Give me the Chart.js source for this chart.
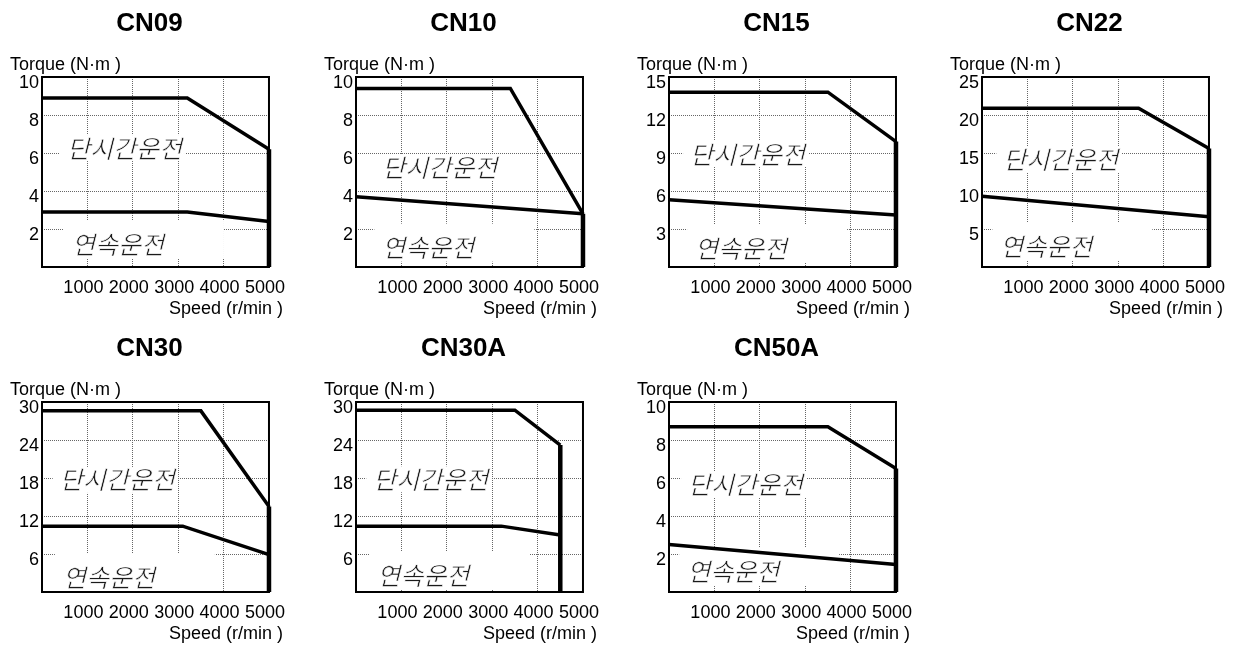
<!DOCTYPE html>
<html>
<head>
<meta charset="utf-8">
<script src="https://cdn.jsdelivr.net/npm/chart.js@4/dist/chart.umd.min.js"></script>
<style>
  html, body { margin: 0; padding: 0; background: #fff; width: 1237px; height: 646px; overflow: hidden; }
  canvas { position: absolute; }
</style>
</head>
<body>
<script>
// Servo motor speed–torque curves
const MODELS = ['CN09', 'CN10', 'CN15', 'CN22', 'CN30', 'CN30A', 'CN50A'];
const TORQUE_MAX = [10, 10, 15, 25, 30, 30, 10];
const TORQUE_STEP = [2, 2, 3, 5, 6, 6, 2];
const SPEED_MAX = 5000;
const SPEED_STEP = 1000;

// Short-time operating limit (단시간운전): speed r/min, torque N·m
const CN09_PEAK_SPEED = [0, 3200, 5000];
const CN09_PEAK_TORQUE = [8.9, 8.9, 6.2];
const CN10_PEAK_SPEED = [0, 3400, 5000];
const CN10_PEAK_TORQUE = [9.4, 9.4, 2.8];
const CN15_PEAK_SPEED = [0, 3500, 5000];
const CN15_PEAK_TORQUE = [13.8, 13.8, 9.9];
const CN22_PEAK_SPEED = [0, 3450, 5000];
const CN22_PEAK_TORQUE = [20.9, 20.9, 15.6];
const CN30_PEAK_SPEED = [0, 3500, 5000];
const CN30_PEAK_TORQUE = [28.6, 28.6, 13.5];
const CN30A_PEAK_SPEED = [0, 3500, 4500];
const CN30A_PEAK_TORQUE = [28.7, 28.7, 23.2];
const CN50A_PEAK_SPEED = [0, 3500, 5000];
const CN50A_PEAK_TORQUE = [8.7, 8.7, 6.5];

// Continuous operating limit (연속운전)
const CN09_CONT_SPEED = [0, 3200, 5000];
const CN09_CONT_TORQUE = [2.9, 2.9, 2.4];
const CN10_CONT_SPEED = [0, 5000];
const CN10_CONT_TORQUE = [3.7, 2.8];
const CN15_CONT_SPEED = [0, 5000];
const CN15_CONT_TORQUE = [5.3, 4.1];
const CN22_CONT_SPEED = [0, 5000];
const CN22_CONT_TORQUE = [9.3, 6.6];
const CN30_CONT_SPEED = [0, 3100, 5000];
const CN30_CONT_TORQUE = [10.4, 10.4, 5.9];
const CN30A_CONT_SPEED = [0, 3200, 4500];
const CN30A_CONT_TORQUE = [10.4, 10.4, 9.0];
const CN50A_CONT_SPEED = [0, 5000];
const CN50A_CONT_TORQUE = [2.5, 1.45];

const PEAK_SPEED = [CN09_PEAK_SPEED, CN10_PEAK_SPEED, CN15_PEAK_SPEED, CN22_PEAK_SPEED, CN30_PEAK_SPEED, CN30A_PEAK_SPEED, CN50A_PEAK_SPEED];
const PEAK_TORQUE = [CN09_PEAK_TORQUE, CN10_PEAK_TORQUE, CN15_PEAK_TORQUE, CN22_PEAK_TORQUE, CN30_PEAK_TORQUE, CN30A_PEAK_TORQUE, CN50A_PEAK_TORQUE];
const CONT_SPEED = [CN09_CONT_SPEED, CN10_CONT_SPEED, CN15_CONT_SPEED, CN22_CONT_SPEED, CN30_CONT_SPEED, CN30A_CONT_SPEED, CN50A_CONT_SPEED];
const CONT_TORQUE = [CN09_CONT_TORQUE, CN10_CONT_TORQUE, CN15_CONT_TORQUE, CN22_CONT_TORQUE, CN30_CONT_TORQUE, CN30A_CONT_TORQUE, CN50A_CONT_TORQUE];

// Region captions and their anchor (speed, torque) inside each chart
const PEAK_CAPTION = '단시간운전';
const CONT_CAPTION = '연속운전';
const PEAK_CAPTION_AT = [[550, 6.26], [580, 5.25], [465, 8.92], [470, 14.1], [390, 17.7], [380, 17.8], [420, 5.64]];
const CONT_CAPTION_AT = [[660, 1.16], [580, 1.02], [575, 1.47], [404, 2.64], [460, 2.26], [470, 2.53], [400, 1.1]];

const Y_CAPTION = 'Torque (N·m )';
const X_CAPTION = 'Speed (r/min )';

const LATIN = '"Liberation Sans", Arial, sans-serif';
const HANGUL = '"Noto Sans CJK KR", sans-serif';

const CANVAS_W = 299, CANVAS_H = 322;
const COL_LEFT = [0, 314, 627, 940];
const ROW_TOP = [0, 325];

// Frame, region captions on a white backing, axis captions
const decor = {
  id: 'decor',
  beforeDatasetsDraw(chart, args, opts) {
    const { ctx, chartArea: a, scales: { x, y } } = chart;
    ctx.save();
    ctx.beginPath();
    ctx.rect(a.left + 1, a.top + 1, a.right - a.left - 2, a.bottom - a.top - 2);
    ctx.clip();
    ctx.font = 'italic 25px ' + HANGUL;
    ctx.textBaseline = 'middle';
    ctx.textAlign = 'left';
    for (const c of opts.captions) {
      const px = x.getPixelForValue(c.at[0]);
      const py = y.getPixelForValue(c.at[1]);
      const w = ctx.measureText(c.text).width;
      ctx.fillStyle = '#fff';
      ctx.fillRect(px - c.pad[0], py - c.pad[2], w + c.pad[0] + c.pad[1], c.pad[2] + c.pad[3]);
      ctx.fillStyle = '#1a1a1a';
      ctx.fillText(c.text, px, py);
      // thin the strokes slightly for a lighter pen
      ctx.strokeStyle = '#fff';
      ctx.lineWidth = 0.6;
      ctx.strokeText(c.text, px, py);
    }
    ctx.restore();

    ctx.save();
    ctx.lineWidth = 2;
    ctx.strokeStyle = '#000';
    ctx.strokeRect(a.left, a.top, a.right - a.left, a.bottom - a.top);
    ctx.restore();
  },
  afterDraw(chart) {
    const { ctx, chartArea: a } = chart;
    ctx.save();
    ctx.fillStyle = '#000';
    ctx.font = '18px ' + LATIN;
    ctx.textBaseline = 'middle';
    ctx.textAlign = 'left';
    ctx.fillText(Y_CAPTION, a.left - 32, a.top - 12);
    ctx.textAlign = 'right';
    ctx.fillText(X_CAPTION, a.right + 14, a.bottom + 42);
    ctx.restore();
  }
};

MODELS.forEach((name, i) => {
  const row = i < 4 ? 0 : 1;
  const col = i < 4 ? i : i - 4;
  const canvas = document.createElement('canvas');
  canvas.width = CANVAS_W;
  canvas.height = CANVAS_H;
  canvas.style.left = COL_LEFT[col] + 'px';
  canvas.style.top = ROW_TOP[row] + 'px';
  canvas.style.width = CANVAS_W + 'px';
  canvas.style.height = CANVAS_H + 'px';
  document.body.appendChild(canvas);

  const toPoints = (xs, ys) => xs.map((v, k) => ({ x: v, y: ys[k] }));
  const peak = PEAK_TORQUE[i];
  const endSpeed = PEAK_SPEED[i][PEAK_SPEED[i].length - 1];
  const line = (data, width) => ({
    data, borderColor: '#000', borderWidth: width, pointRadius: 0, tension: 0,
    borderJoinStyle: 'miter', borderCapStyle: 'butt', fill: false, clip: 4
  });

  new Chart(canvas, {
    type: 'line',
    data: {
      datasets: [
        line(toPoints(PEAK_SPEED[i], peak), 3.5),
        line(toPoints(CONT_SPEED[i], CONT_TORQUE[i]), 3.5),
        line([{ x: endSpeed, y: peak[peak.length - 1] }, { x: endSpeed, y: 0 }], 4.5)
      ]
    },
    options: {
      responsive: false,
      animation: false,
      devicePixelRatio: 1,
      layout: { padding: 0 },
      plugins: {
        legend: { display: false },
        tooltip: { enabled: false },
        title: {
          display: true,
          text: name,
          color: '#000',
          font: { family: LATIN, size: 26, weight: 'bold', lineHeight: 1.2 },
          padding: { top: 8.4, bottom: 37.4 }
        },
        decor: {
          captions: [
            { text: PEAK_CAPTION, at: PEAK_CAPTION_AT[i], pad: [7, 3, 13, 13] },
            { text: CONT_CAPTION, at: CONT_CAPTION_AT[i], pad: [8, 60, 24, 14] }
          ]
        }
      },
      scales: {
        x: {
          type: 'linear',
          min: 0,
          max: SPEED_MAX,
          afterFit: (s) => { s.height = CANVAS_H - 267; },
          grid: { color: '#666', lineWidth: 1, drawTicks: false },
          border: { display: false, dash: [1, 1] },
          ticks: {
            stepSize: SPEED_STEP,
            autoSkip: false,
            maxRotation: 0,
            padding: 10,
            labelOffset: -4,
            color: '#000',
            font: { family: LATIN, size: 18 },
            callback: (v) => (v === 0 ? '' : String(v))
          }
        },
        y: {
          min: 0,
          max: TORQUE_MAX[i],
          afterFit: (s) => { s.width = 42; },
          grid: { color: '#666', lineWidth: 1, drawTicks: false },
          border: { display: false, dash: [1, 1] },
          ticks: {
            stepSize: TORQUE_STEP[i],
            padding: 3,
            labelOffset: 6,
            color: '#000',
            font: { family: LATIN, size: 18 },
            callback: (v) => (v === 0 ? '' : String(v))
          }
        },
        // empty right-hand gutter that leaves room for the last speed label
        gutter: {
          position: 'right',
          display: true,
          afterFit: (s) => { s.width = 30; },
          grid: { display: false, drawTicks: false },
          border: { display: false },
          ticks: { display: false }
        }
      }
    },
    plugins: [decor]
  });
});
</script>
</body>
</html>
